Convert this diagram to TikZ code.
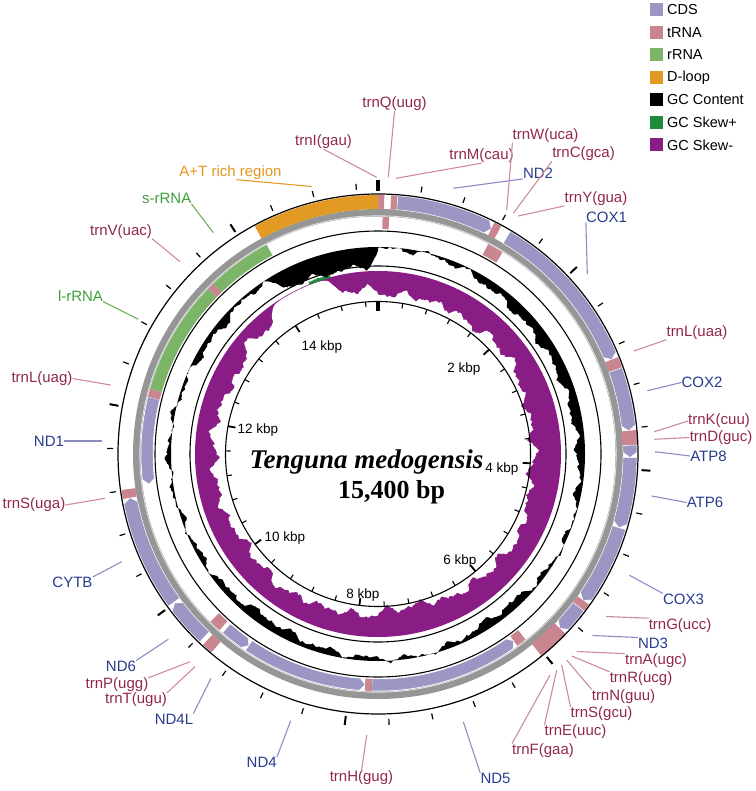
\documentclass[tikz,border=0pt]{standalone}
\usepackage{fontspec}
\setmainfont{Liberation Sans}
\newfontfamily\serifbi{Liberation Serif}
\definecolor{cds}{RGB}{155,150,196}
\definecolor{trna}{RGB}{201,134,145}
\definecolor{rrna}{RGB}{125,181,104}
\definecolor{dloop}{RGB}{227,154,36}
\definecolor{skewp}{RGB}{30,140,60}
\definecolor{skewm}{RGB}{138,28,134}
\definecolor{trnTxt}{RGB}{145,40,75}
\definecolor{cdsTxt}{RGB}{40,60,140}
\definecolor{rrnaTxt}{RGB}{60,160,60}
\definecolor{dTxt}{RGB}{230,150,30}
\definecolor{trnLine}{RGB}{205,140,150}
\definecolor{cdsLine}{RGB}{140,140,195}
\definecolor{rrnaLine}{RGB}{110,175,90}
\definecolor{ring}{RGB}{150,150,150}
% annular band: start deg, end deg, r1, r2, colour
\newcommand\band[5]{\fill[#5] ({#1-90}:#4) arc[start angle={#1-90},end angle={#2-90},radius=#4] -- ({#2-90}:#3) arc[start angle={#2-90},end angle={#1-90},radius=#3] -- cycle;}
\newcommand\cdsP[4]{\fill[cds,draw=white,line width=0.5] ({#1-90}:#4) arc[start angle={#1-90},end angle={#2-90-1.2},radius=#4] -- ({#2-90}:{(#3+#4)/2}) -- ({#2-90-1.2}:#3) arc[start angle={#2-90-1.2},end angle={#1-90},radius=#3] -- cycle;}
\newcommand\cdsM[4]{\fill[cds,draw=white,line width=0.5] ({#1-90}:{(#3+#4)/2}) -- ({#1-90+1.3}:#4) arc[start angle={#1-90+1.3},end angle={#2-90},radius=#4] -- ({#2-90}:#3) arc[start angle={#2-90},end angle={#1-90+1.3},radius=#3] -- cycle;}
\begin{document}
\begin{tikzpicture}[x=1pt,y=-1pt,
  declare function={
    gs(\t,\c,\w)=exp(max(-9,-((\t-\c)/\w)*((\t-\c)/\w)));
    lg(\a)=1/(1+exp(min(9,-\a)));
    nz(\t)=0.5*sin(360*frac(0.3805556*\t))+0.3*sin(360*frac(0.6472222*\t+0.13))+0.2*sin(360*frac(1.0416667*\t+0.41));
    stp(\t)=sin(360*frac(0.0861111*\t))+0.6*sin(360*frac(0.1527778*\t+0.3));
    wa(\t)=lg((\t-323)*1.2)*lg((345-\t)*1.2);
    wd(\t)=lg((\t-329)*0.8)*lg((359-\t)*1.5);
    skb(\t)=20+7*gs(\t,85,45)+5*gs(\t,175,25)-7*gs(\t,312,9)+2*sin(5*\t)+1.5*sin(11*\t+40)+1.2*sin(23*\t)+2.8*stp(\t)+1.6*nz(\t);
    sk(\t)=skb(\t)*(1-wa(\t))+0.7*wa(\t);
    gc(\t)=-2.5-9*gs(\t,62,28)-4*gs(\t,145,15)-8*gs(\t,215,14)+4*gs(\t,270,22)-4*gs(\t,310,10)-16*wd(\t)+1.5*sin(7*\t)+2.2*stp(\t)+1.5*nz(\t);
  },
  lab/.style={font=\fontsize{15}{15}\selectfont,inner sep=0pt},
  tlab/.style={lab,text=trnTxt},
  clab/.style={lab,text=cdsTxt},
  rlab/.style={lab,text=rrnaTxt},
  dlab/.style={lab,text=dTxt},
  tline/.style={draw=trnLine,line width=1.1pt},
  cline/.style={draw=cdsLine,line width=1.1pt},
  rline/.style={draw=rrnaLine,line width=1.1pt},
  dline/.style={draw=dloop,line width=1.1pt},
  kb/.style={font=\fontsize{13.5}{13.5}\selectfont,inner sep=0pt},
  legbox/.style={minimum width=13pt,minimum height=13pt,inner sep=0pt},
  legtxt/.style={font=\fontsize{14.5}{14.5}\selectfont,inner sep=0pt,anchor=west},
]
\useasboundingbox (0,0) rectangle (755,791);
\begin{scope}[shift={(378,454)}]
  % grey backbone (annulus)
  \fill[ring,even odd rule] (0,0) circle (245) (0,0) circle (237.5);
  \draw[white!75!ring,line width=0.8] (0,0) circle (238.2);
  % GC skew
  \fill[skewm] (0,0) circle (183);
  \fill[white] plot[domain=0:360,samples=721] ({\x-90}:{183-max(0,sk(\x))}) -- cycle;
  \fill[skewp] plot[domain=338:345,samples=15] ({\x-90}:{185+1.5*abs(nz(\x))}) -- (345-90:182.5) arc[start angle=255,end angle=248,radius=182.5] -- cycle;
  % GC content
  \fill[black,even odd rule] plot[domain=0:360,samples=721] ({\x-90}:{207+gc(\x)}) -- cycle (0,0) circle (207);
  % circles
  \draw[line width=1.1] (0,0) circle (152.5);
  \draw[line width=1.1] (0,0) circle (188);
  \draw[line width=1.1] (0,0) circle (223);
  % plus strand genes
  \band{0}{1.4}{245}{259}{trna}
  \band{2.9}{4.4}{245}{259}{trna}
  \cdsP{4.4}{26.7}{245}{259}
  \band{26.7}{28.4}{245}{259}{trna}
  \cdsP{30.7}{68}{245}{259}
  \band{68}{70.5}{245}{259}{trna}
  \cdsP{70.5}{84.7}{245}{259}
  \band{84.7}{88}{244}{260}{trna}
  \cdsP{88}{90.8}{245}{259}
  \cdsP{90.8}{107}{245}{259}
  \cdsP{107}{125.5}{245}{259}
  \band{125.5}{127.3}{245}{259}{trna}
  \cdsP{127.3}{133.8}{245}{259}
  \band{133.8}{141}{244}{260}{trna}
  \band{220}{222.5}{245}{259}{trna}
  \cdsP{223.5}{233.8}{245}{259}
  \cdsP{234}{260}{245}{259}
  \band{260}{262}{245}{259}{trna}
  \band{331.6}{360}{245}{259}{dloop}
  % minus strand genes
  \band{1.1}{2.7}{225}{237}{trna}
  \band{27.7}{31.7}{225}{237}{trna}
  \band{141.5}{144}{225}{237}{trna}
  \cdsM{144}{181.5}{225}{237}
  \band{181.5}{183.2}{225}{237}{trna}
  \cdsM{183.2}{214}{225}{237}
  \cdsM{214}{221}{225}{237}
  \band{222}{225}{225}{237}{trna}
  \cdsM{262.5}{284}{225}{237}
  \band{284}{286}{225}{237}{trna}
  \band{286}{314.2}{225}{237}{rrna}
  \band{314.2}{316}{225}{237}{trna}
  \band{316}{332}{225}{237}{rrna}
  % outer circle
  \draw[line width=1.2] (0,0) circle (260);
  % ticks
  \foreach \k in {0,...,38}{
    \pgfmathsetmacro\a{\k*400/15400*360-90}
    \pgfmathtruncatemacro\m{mod(\k,5)}
    \ifnum\k=0
      \draw[line width=3.5] (\a:263) -- (\a:274);
      \draw[line width=3.5] (\a:153) -- (\a:143);
    \else\ifnum\m=0
      \draw[line width=2] (\a:264) -- (\a:273);
      \draw[line width=1.8] (\a:152.5) -- (\a:145);
    \else
      \draw[line width=1.2] (\a:265) -- (\a:271);
      \draw[line width=1.1] (\a:152.5) -- (\a:147.5);
    \fi\fi
  }
\end{scope}
% kbp labels
\node[kb] (k2) at (464,369) {2 kbp};
\node[kb] (k4) at (502,469) {4 kbp};
\node[kb] (k6) at (460,561) {6 kbp};
\node[kb] (k8) at (363,595) {8 kbp};
\node[kb] (k10) at (285,538) {10 kbp};
\node[kb] (k12) at (258,430) {12 kbp};
\node[kb] (k14) at (322,347) {14 kbp};
% title
\node[anchor=base,inner sep=0pt,font=\serifbi\bfseries\itshape\fontsize{27}{27}\selectfont] (title) at (366.5,468) {Tenguna medogensis};
\node[anchor=base,inner sep=0pt,font=\serifbi\bfseries\fontsize{26}{26}\selectfont] (size) at (391.5,498) {15,400 bp};
% legend
\node[legbox,fill=cds] (b1) at (656.5,10) {};
\node[legtxt] (g1) at (667,10) {CDS};
\node[legbox,fill=trna] (b2) at (656.5,32.5) {};
\node[legtxt] (g2) at (667,32.5) {tRNA};
\node[legbox,fill=rrna] (b3) at (656.5,55) {};
\node[legtxt] (g3) at (667,55) {rRNA};
\node[legbox,fill=dloop] (b4) at (656.5,77.5) {};
\node[legtxt] (g4) at (667,77.5) {D-loop};
\node[legbox,fill=black] (b5) at (656.5,100) {};
\node[legtxt] (g5) at (667,100) {GC Content};
\node[legbox,fill=skewp] (b6) at (656.5,122.5) {};
\node[legtxt] (g6) at (667,122.5) {GC Skew+};
\node[legbox,fill=skewm] (b7) at (656.5,145) {};
\node[legtxt] (g7) at (667,145) {GC Skew-};
% gene labels
\node[tlab] (lQ) at (394.5,104) {trnQ(uug)};
\node[tlab] (lI) at (323.5,142) {trnI(gau)};
\node[tlab] (lM) at (481.5,156) {trnM(cau)};
\node[tlab] (lW) at (545.5,136) {trnW(uca)};
\node[tlab] (lC) at (583.5,154) {trnC(gca)};
\node[clab] (lND2) at (538,173.5) {ND2};
\node[tlab] (lY) at (596,198.7) {trnY(gua)};
\node[clab] (lCOX1) at (606.5,217) {COX1};
\node[tlab] (lLuaa) at (697,332.5) {trnL(uaa)};
\node[clab] (lCOX2) at (702,382.5) {COX2};
\node[tlab] (lK) at (719,421) {trnK(cuu)};
\node[tlab] (lD) at (721,437.5) {trnD(guc)};
\node[clab] (lATP8) at (708.5,456) {ATP8};
\node[clab] (lATP6) at (705,502.5) {ATP6};
\node[clab] (lCOX3) at (683.5,599) {COX3};
\node[tlab] (lG) at (680,625.4) {trnG(ucc)};
\node[clab] (lND3) at (653,643) {ND3};
\node[tlab] (lA) at (656,660.8) {trnA(ugc)};
\node[tlab] (lR) at (641,679) {trnR(ucg)};
\node[tlab] (lN) at (623.5,696.7) {trnN(guu)};
\node[tlab] (lSgcu) at (601.5,714) {trnS(gcu)};
\node[tlab] (lE) at (575.5,732) {trnE(uuc)};
\node[tlab] (lF) at (543,750.8) {trnF(gaa)};
\node[clab] (lND5) at (495.5,778.6) {ND5};
\node[tlab] (lH) at (361.5,778) {trnH(gug)};
\node[clab] (lND4) at (261.7,762.5) {ND4};
\node[clab] (lND4L) at (174,719) {ND4L};
\node[tlab] (lT) at (136,700) {trnT(ugu)};
\node[tlab] (lP) at (117,685) {trnP(ugg)};
\node[clab] (lND6) at (121,666) {ND6};
\node[clab] (lCYTB) at (72.5,582.5) {CYTB};
\node[tlab] (lSuga) at (34,505) {trnS(uga)};
\node[clab] (lND1) at (49,441) {ND1};
\node[tlab] (lLuag) at (42,378.5) {trnL(uag)};
\node[rlab] (lL) at (80.5,296) {l-rRNA};
\node[tlab] (lV) at (121,231.5) {trnV(uac)};
\node[rlab] (lS) at (166.7,198.5) {s-rRNA};
\node[dlab] (lAT) at (230.5,172.5) {A+T rich region};
% connector end points
\coordinate (pQ) at (388.3,177.3);
\coordinate (pI) at (376.7,177.3);
\coordinate (pM) at (396,178.3);
\coordinate (pW) at (506.7,210);
\coordinate (pC) at (513.3,213.3);
\coordinate (pND2) at (453.3,188.3);
\coordinate (pY) at (518.3,216);
\coordinate (pCOX1) at (587.3,274);
\coordinate (pLuaa) at (634,351);
\coordinate (pCOX2) at (647.3,390.7);
\coordinate (pK) at (654.3,431.7);
\coordinate (pD) at (654.3,439.3);
\coordinate (pATP8) at (655,451.7);
\coordinate (pATP6) at (651.7,496);
\coordinate (pCOX3) at (629.5,575.3);
\coordinate (pG) at (606,616.5);
\coordinate (pND3) at (592.4,635.5);
\coordinate (pA) at (576.6,651.5);
\coordinate (pR) at (571.7,656);
\coordinate (pN) at (566.7,660);
\coordinate (pSgcu) at (561.7,665);
\coordinate (pE) at (556.7,670);
\coordinate (pF) at (550,675);
\coordinate (pND5) at (463.3,721.7);
\coordinate (pH) at (366.7,735);
\coordinate (pND4) at (290.7,720.7);
\coordinate (pND4L) at (211,678.3);
\coordinate (pT) at (195,666.7);
\coordinate (pP) at (190,661.7);
\coordinate (pND6) at (168.3,639.3);
\coordinate (pCYTB) at (121.7,561.7);
\coordinate (pSuga) at (105,498.3);
\coordinate (pND1) at (101.7,441);
\coordinate (pLuag) at (110.7,385);
\coordinate (pL) at (138.3,319.3);
\coordinate (pV) at (180,261.7);
\coordinate (pS) at (213.3,232.7);
\coordinate (pAT) at (311.7,186.5);
% connectors
\draw[tline] (lQ.south) -- (pQ);
\draw[tline] (lI.south) -- (pI);
\draw[tline] (lM.south) -- (pM);
\draw[tline] (lW.south west) -- (pW);
\draw[tline] (lC.south west) -- (pC);
\draw[cline] (lND2.south west) -- (pND2);
\draw[tline] (lY.south west) -- (pY);
\draw[cline] (lCOX1.south west) -- (pCOX1);
\draw[tline] (lLuaa.south west) -- (pLuaa);
\draw[cline] (lCOX2.west) -- (pCOX2);
\draw[tline] (lK.west) -- (pK);
\draw[tline] (lD.west) -- (pD);
\draw[cline] (lATP8.west) -- (pATP8);
\draw[cline] (lATP6.west) -- (pATP6);
\draw[cline] (lCOX3.north west) -- (pCOX3);
\draw[tline] (lG.north west) -- (pG);
\draw[cline] (lND3.north west) -- (pND3);
\draw[tline] (lA.north west) -- (pA);
\draw[tline] (lR.north west) -- (pR);
\draw[tline] (lN.north west) -- (pN);
\draw[tline] (lSgcu.north west) -- (pSgcu);
\draw[tline] (lE.north west) -- (pE);
\draw[tline] (lF.north west) -- (pF);
\draw[cline] (lND5.north west) -- (pND5);
\draw[tline] (lH.north) -- (pH);
\draw[cline] (lND4.north east) -- (pND4);
\draw[cline] (lND4L.north east) -- (pND4L);
\draw[tline] (lT.north east) -- (pT);
\draw[tline] (lP.north east) -- (pP);
\draw[cline] (lND6.north east) -- (pND6);
\draw[cline] (lCYTB.north east) -- (pCYTB);
\draw[tline] (lSuga.east) -- (pSuga);
\draw[cline] (lND1.east) -- (pND1);
\draw[tline] (lLuag.east) -- (pLuag);
\draw[rline] (lL.south east) -- (pL);
\draw[tline] (lV.south east) -- (pV);
\draw[rline] (lS.south east) -- (pS);
\draw[dline] ([xshift=6pt]lAT.south) -- (pAT);
\end{tikzpicture}
\end{document}
